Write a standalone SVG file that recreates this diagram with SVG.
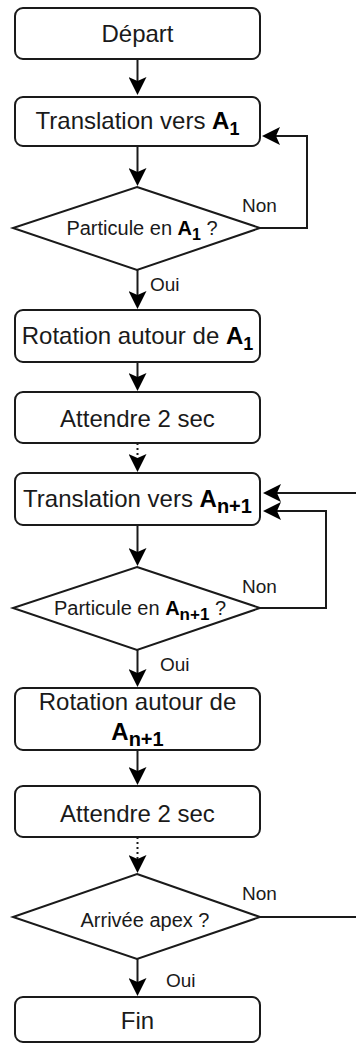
<svg xmlns="http://www.w3.org/2000/svg" width="356" height="1045" viewBox="0 0 356 1045">
<style>
.box{fill:#fff;stroke:#1a1a1a;stroke-width:2}
.dia{fill:#fff;stroke:#1a1a1a;stroke-width:2}
.t{font-family:"Liberation Sans",Arial,sans-serif;font-size:24px;fill:#1a1a1a;text-anchor:middle}
.d{font-family:"Liberation Sans",Arial,sans-serif;font-size:20px;fill:#1a1a1a;text-anchor:middle}
.l{font-family:"Liberation Sans",Arial,sans-serif;font-size:19px;fill:#1a1a1a}
.b{font-weight:bold;fill:#000}
.c{fill:none;stroke:#1a1a1a;stroke-width:2}
.dot{stroke-dasharray:2 3}
</style>
<defs>
<marker id="arr" markerUnits="userSpaceOnUse" markerWidth="18" markerHeight="18" refX="4" refY="9" orient="auto" viewBox="0 0 18 18">
<path d="M0,0 L18,9 L0,18 L4,9 z" fill="#000"/>
</marker>
</defs>
<g id="connectors">
<line class="c" x1="137.5" y1="59" x2="137.5" y2="81" marker-end="url(#arr)"/>
<line class="c" x1="137.5" y1="146" x2="137.5" y2="172" marker-end="url(#arr)"/>
<polyline class="c" points="260,228 307,228 307,136 276,136" marker-end="url(#arr)"/>
<line class="c" x1="137.5" y1="270" x2="137.5" y2="295" marker-end="url(#arr)"/>
<line class="c" x1="137.5" y1="362" x2="137.5" y2="377" marker-end="url(#arr)"/>
<line class="c dot" x1="137.5" y1="443" x2="137.5" y2="458" marker-end="url(#arr)"/>
<line class="c" x1="356" y1="493" x2="277" y2="493" marker-end="url(#arr)"/>
<line class="c" x1="137.5" y1="525" x2="137.5" y2="552" marker-end="url(#arr)"/>
<polyline class="c" points="260,608 326,608 326,511 277,511" marker-end="url(#arr)"/>
<line class="c" x1="137.5" y1="650" x2="137.5" y2="673" marker-end="url(#arr)"/>
<line class="c" x1="137.5" y1="750" x2="137.5" y2="771" marker-end="url(#arr)"/>
<line class="c dot" x1="137.5" y1="837" x2="137.5" y2="859" marker-end="url(#arr)"/>
<line class="c" x1="260" y1="917" x2="356" y2="917"/>
<line class="c" x1="137.5" y1="959" x2="137.5" y2="982" marker-end="url(#arr)"/>
<text class="l" x="242" y="212">Non</text>
<text class="l" x="150" y="291">Oui</text>
<text class="l" x="242" y="593">Non</text>
<text class="l" x="160" y="671">Oui</text>
<text class="l" x="242" y="900">Non</text>
<text class="l" x="166" y="987">Oui</text>
</g>
<g id="depart">
<rect class="box" x="15" y="8" width="245" height="51" rx="8"/>
<text class="t" x="137.5" y="42">Départ</text>
</g>
<g id="translation1">
<rect class="box" x="15" y="97" width="245" height="49" rx="8"/>
<text class="t" x="137.5" y="129">Translation vers <tspan class="b">A</tspan><tspan class="b" font-size="18" dy="6">1</tspan></text>
</g>
<g id="decision1">
<polygon class="dia" points="137,187 260,228 137,270 13,228"/>
<text class="d" x="142" y="235">Particule en <tspan class="b">A</tspan><tspan class="b" font-size="16" dy="5">1</tspan><tspan dy="-5"> ?</tspan></text>
</g>
<g id="rotation1">
<rect class="box" x="15" y="310" width="245" height="52" rx="8"/>
<text class="t" x="137.5" y="344">Rotation autour de <tspan class="b">A</tspan><tspan class="b" font-size="18" dy="6">1</tspan></text>
</g>
<g id="attendre1">
<rect class="box" x="15" y="392" width="245" height="51" rx="8"/>
<text class="t" x="137.5" y="427">Attendre 2 sec</text>
</g>
<g id="translationN">
<rect class="box" x="15" y="473" width="245" height="52" rx="8"/>
<text class="t" x="137.5" y="507">Translation vers <tspan class="b">A</tspan><tspan class="b" font-size="20" dy="6">n+1</tspan></text>
</g>
<g id="decision2">
<polygon class="dia" points="137,567 260,608 137,650 13,608"/>
<text class="d" x="140" y="615">Particule en <tspan class="b">A</tspan><tspan class="b" font-size="17" dy="5">n+1</tspan><tspan dy="-5"> ?</tspan></text>
</g>
<g id="rotationN">
<rect class="box" x="15" y="688" width="245" height="62" rx="8"/>
<text class="t" x="137.5" y="710">Rotation autour de</text>
<text class="t" x="137.5" y="740"><tspan class="b">A</tspan><tspan class="b" font-size="20" dy="6">n+1</tspan></text>
</g>
<g id="attendre2">
<rect class="box" x="15" y="786" width="245" height="51" rx="8"/>
<text class="t" x="137.5" y="822">Attendre 2 sec</text>
</g>
<g id="decision3">
<polygon class="dia" points="137,874 260,917 137,959 13,917"/>
<text class="d" x="145" y="927">Arrivée apex ?</text>
</g>
<g id="fin">
<rect class="box" x="15" y="997" width="245" height="45" rx="8"/>
<text class="t" x="137.5" y="1029">Fin</text>
</g>
</svg>
